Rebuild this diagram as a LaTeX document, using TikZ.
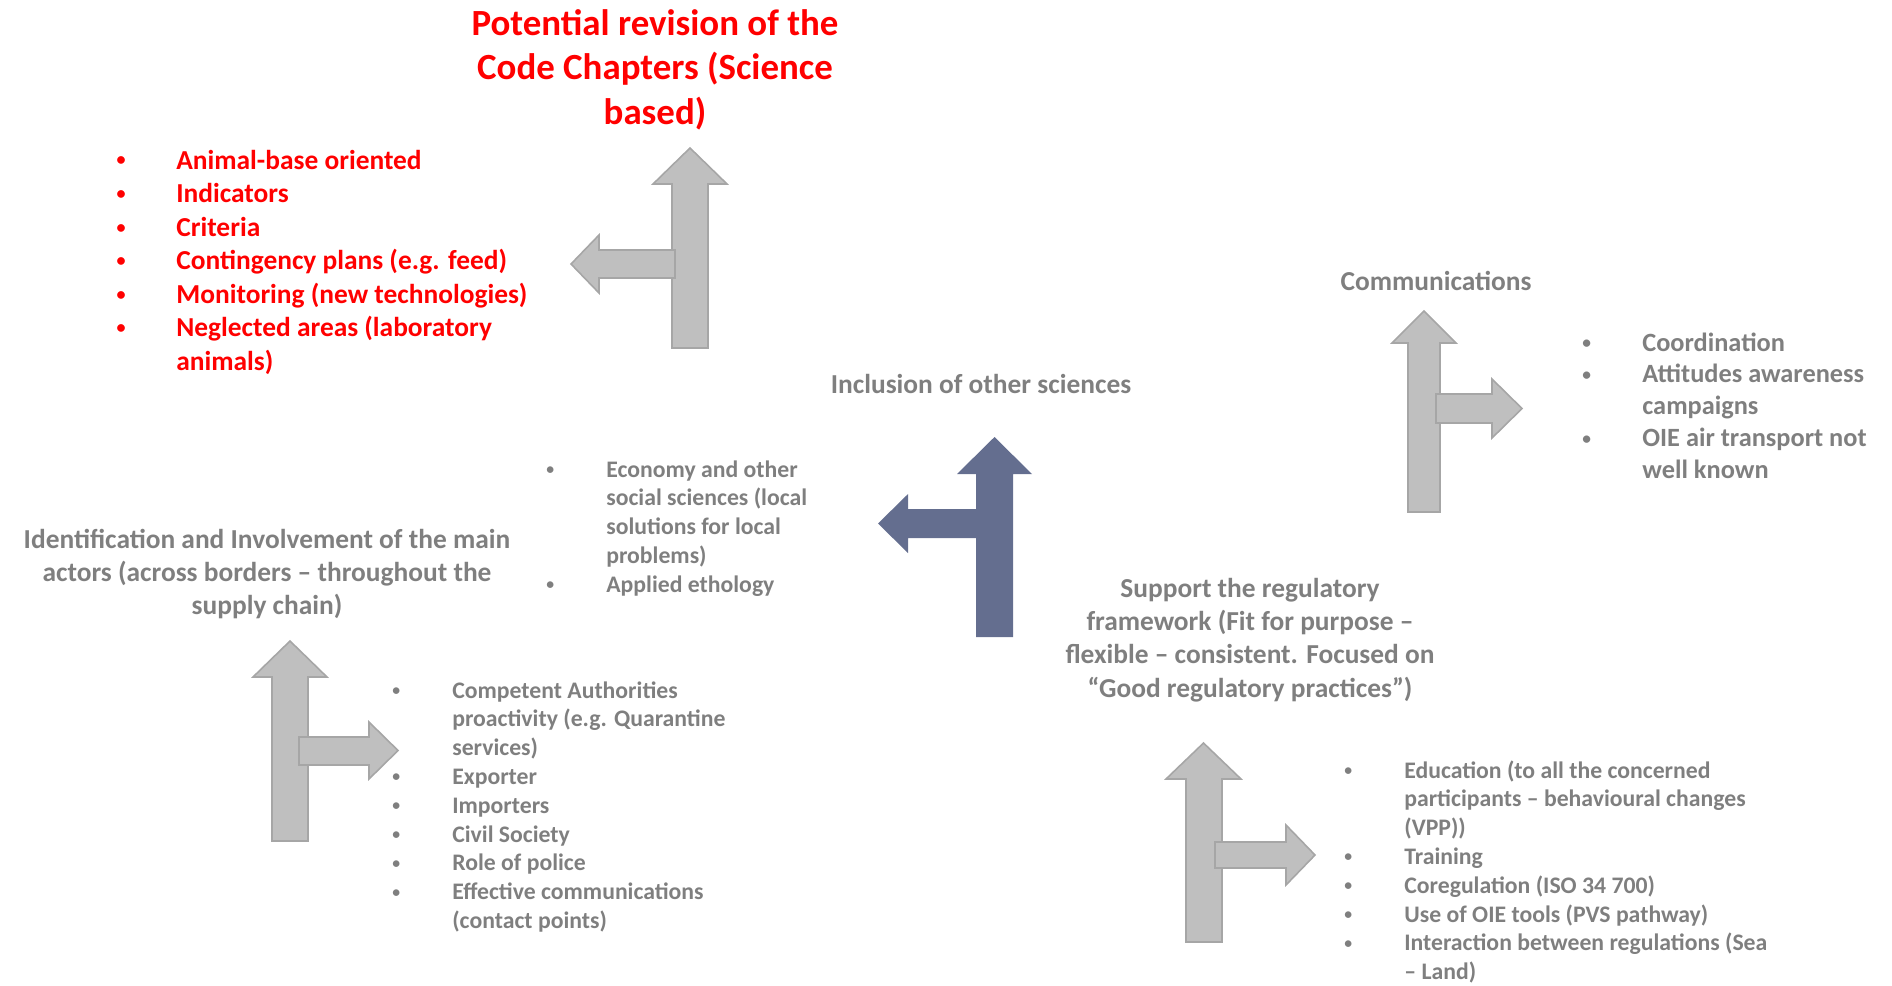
\documentclass[tikz,border=0pt]{standalone}
\usepackage{fontspec}
\usepackage{graphicx}
\setmainfont{Carlito}
\definecolor{titlered}{RGB}{255,0,0}
\definecolor{textgray}{RGB}{127,127,127}
\definecolor{arrowgray}{RGB}{191,191,191}
\definecolor{arrowedge}{RGB}{166,166,166}
\definecolor{arrowblue}{RGB}{100,110,143}
\newcommand{\listdot}{\hspace{0.08em}\raisebox{0.11em}{\scalebox{0.66}{\textbullet}}}
\tikzset{
  grayarrow/.style={fill=arrowgray,draw=arrowedge,line width=0.9pt},
  bluearrow/.style={fill=arrowblue},
  headtext/.style={text=textgray,font=\fontsize{15.6}{19}\selectfont\bfseries,inner sep=0pt,anchor=base},
  listtext/.style={text=textgray,font=\fontsize{13.5}{16.4}\selectfont\bfseries,inner sep=0pt,anchor=base west},
}
\begin{document}
\begin{tikzpicture}[x=0.02cm,y=-0.02cm]
\useasboundingbox (0,0) rectangle (1892,985);
% arrows
\draw [grayarrow] (672,348) -- (672,184) -- (653,184) -- (690,148) -- (727,184) -- (708,184) -- (708,348) -- cycle;
\draw [grayarrow] (675,250) -- (599,250) -- (599,235) -- (571,264) -- (599,293) -- (599,278) -- (675,278) -- cycle;
\fill [bluearrow] (976,637) -- (976,474) -- (957,474) -- (994.5,437) -- (1032,474) -- (1013,474) -- (1013,637) -- cycle;
\fill [bluearrow] (978,509) -- (908,509) -- (908,494) -- (878,523.5) -- (908,553) -- (908,538) -- (978,538) -- cycle;
\draw [grayarrow] (1408,512) -- (1408,343) -- (1392,343) -- (1424,311) -- (1456,343) -- (1440,343) -- (1440,512) -- cycle;
\draw [grayarrow] (1436,394) -- (1492,394) -- (1492,379) -- (1522,408.5) -- (1492,438) -- (1492,423) -- (1436,423) -- cycle;
\draw [grayarrow] (272,841) -- (272,677) -- (253,677) -- (290,641) -- (327,677) -- (308,677) -- (308,841) -- cycle;
\draw [grayarrow] (299,737) -- (369,737) -- (369,722) -- (398,750.5) -- (369,779) -- (369,765) -- (299,765) -- cycle;
\draw [grayarrow] (1186,942) -- (1186,779) -- (1166,779) -- (1203.5,743) -- (1241,779) -- (1222,779) -- (1222,942) -- cycle;
\draw [grayarrow] (1215,842) -- (1286,842) -- (1286,825) -- (1315,855) -- (1286,885) -- (1286,868) -- (1215,868) -- cycle;
% headings
\node [anchor=base,inner sep=0pt,text=titlered,font=\fontsize{21}{25.6}\selectfont\bfseries] (revision) at (655,35)
  {\begin{tabular}[t]{@{}c@{}}Potential revision of the\\Code Chapters (Science\\based)\end{tabular}};
\node [headtext] (comms) at (1436,290) {Communications};
\node [headtext] (sciences) at (981,393) {Inclusion of other sciences};
\node [headtext] (actors) at (267,548)
  {\begin{tabular}[t]{@{}c@{}}Identification and Involvement of the main\\actors (across borders -- throughout the\\supply chain)\end{tabular}};
\node [headtext] (framework) at (1250,597)
  {\begin{tabular}[t]{@{}c@{}}Support the regulatory\\framework (Fit for purpose --\\flexible -- consistent. Focused on\\``Good regulatory practices'')\end{tabular}};
% bullet lists
\node [listtext,text=titlered,font=\fontsize{15.6}{19.1}\selectfont\bfseries] (revisionlist) at (114,169)
  {\begin{tabular}[t]{@{}p{1.24cm}@{}l@{}}
  \listdot & Animal-base oriented\\
  \listdot & Indicators\\
  \listdot & Criteria\\
  \listdot & Contingency plans (e.g. feed)\\
  \listdot & Monitoring (new technologies)\\
  \listdot & Neglected areas (laboratory\\
   & animals)
  \end{tabular}};
\node [listtext] (scienceslist) at (544,477)
  {\begin{tabular}[t]{@{}p{1.24cm}@{}l@{}}
  \listdot & Economy and other\\
   & social sciences (local\\
   & solutions for local\\
   & problems)\\
  \listdot & Applied ethology
  \end{tabular}};
\node [listtext,font=\fontsize{15}{18.2}\selectfont\bfseries] (commslist) at (1580,351)
  {\begin{tabular}[t]{@{}p{1.24cm}@{}l@{}}
  \listdot & Coordination\\
  \listdot & Attitudes awareness\\
   & campaigns\\
  \listdot & OIE air transport not\\
   & well known
  \end{tabular}};
\node [listtext] (actorslist) at (390,698)
  {\begin{tabular}[t]{@{}p{1.24cm}@{}l@{}}
  \listdot & Competent Authorities\\
   & proactivity (e.g. Quarantine\\
   & services)\\
  \listdot & Exporter\\
  \listdot & Importers\\
  \listdot & Civil Society\\
  \listdot & Role of police\\
  \listdot & Effective communications\\
   & (contact points)
  \end{tabular}};
\node [listtext] (frameworklist) at (1342,778)
  {\begin{tabular}[t]{@{}p{1.24cm}@{}l@{}}
  \listdot & Education (to all the concerned\\
   & participants -- behavioural changes\\
   & (VPP))\\
  \listdot & Training\\
  \listdot & Coregulation (ISO 34 700)\\
  \listdot & Use of OIE tools (PVS pathway)\\
  \listdot & Interaction between regulations (Sea\\
   & -- Land)
  \end{tabular}};
\end{tikzpicture}
\end{document}
